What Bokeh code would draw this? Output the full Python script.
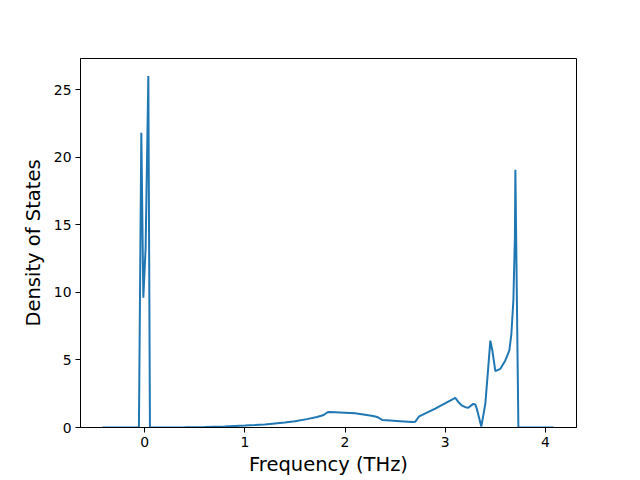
from bokeh.plotting import figure
from bokeh.embed import file_html
from bokeh.resources import INLINE
from bokeh.models import Range1d, FixedTicker

freq = [-0.42, -0.057, -0.033, -0.013, 0.01, 0.037, 0.053, 0.2, 0.4, 0.6, 0.8, 1.0, 1.1, 1.2, 1.3, 1.4,
        1.5, 1.62, 1.72, 1.78, 1.83, 1.9, 2.0, 2.1, 2.2, 2.28, 2.32, 2.37, 2.45, 2.55, 2.67, 2.7,
        2.74, 2.9, 3.1, 3.13, 3.165, 3.2, 3.23, 3.28, 3.30, 3.315, 3.36, 3.40, 3.43, 3.45, 3.47,
        3.50, 3.55, 3.60, 3.64, 3.66, 3.68, 3.695, 3.70, 3.73, 4.08]
dos = [0, 0, 21.8, 9.6, 13.3, 26.0, 0, 0.005, 0.015, 0.035, 0.07, 0.14, 0.18, 0.23, 0.3, 0.37,
       0.46, 0.62, 0.78, 0.9, 1.15, 1.13, 1.1, 1.05, 0.95, 0.85, 0.78, 0.56, 0.52, 0.47, 0.4, 0.42,
       0.83, 1.4, 2.2, 1.9, 1.63, 1.5, 1.46, 1.75, 1.7, 1.38, 0.07, 1.75, 4.5, 6.43, 5.7,
       4.17, 4.34, 4.96, 5.7, 6.9, 9.4, 14, 19.06, 0, 0]
x_ticks = [0, 1, 2, 3, 4]
y_ticks = [0, 5, 10, 15, 20, 25]

p = figure(width=640, height=480, output_backend="svg", toolbar_location=None,
           x_range=Range1d(-0.64, 4.31), y_range=Range1d(0, 27.3),
           min_border_left=80, min_border_right=64, min_border_top=58, min_border_bottom=53)

p.line(freq, dos, line_color="#1f77b4", line_width=2)

p.xgrid.visible = False
p.ygrid.visible = False
p.outline_line_color = "black"
p.outline_line_alpha = 1
p.outline_line_width = 1
p.background_fill_color = "white"
p.border_fill_color = "white"

p.xaxis.ticker = FixedTicker(ticks=x_ticks)
p.yaxis.ticker = FixedTicker(ticks=y_ticks)
p.xaxis.axis_label = "Frequency (THz)"
p.yaxis.axis_label = "Density of States"
for ax in (p.xaxis, p.yaxis):
    ax.axis_label_text_font = "DejaVu Sans"
    ax.axis_label_text_font_size = "19.5px"
    ax.axis_label_text_font_style = "normal"
    ax.axis_label_text_color = "black"
    ax.major_label_text_font = "DejaVu Sans"
    ax.major_label_text_font_size = "13.9px"
    ax.major_label_text_color = "black"
    ax.minor_tick_line_color = None
    ax.major_tick_in = 0
    ax.major_tick_out = 5
    ax.major_tick_line_color = "black"
    ax.axis_line_color = "black"
    ax.major_label_standoff = 4
p.xaxis.axis_label_standoff = 3
p.yaxis.axis_label_standoff = 6

open("out.html", "w").write(file_html(p, INLINE))
